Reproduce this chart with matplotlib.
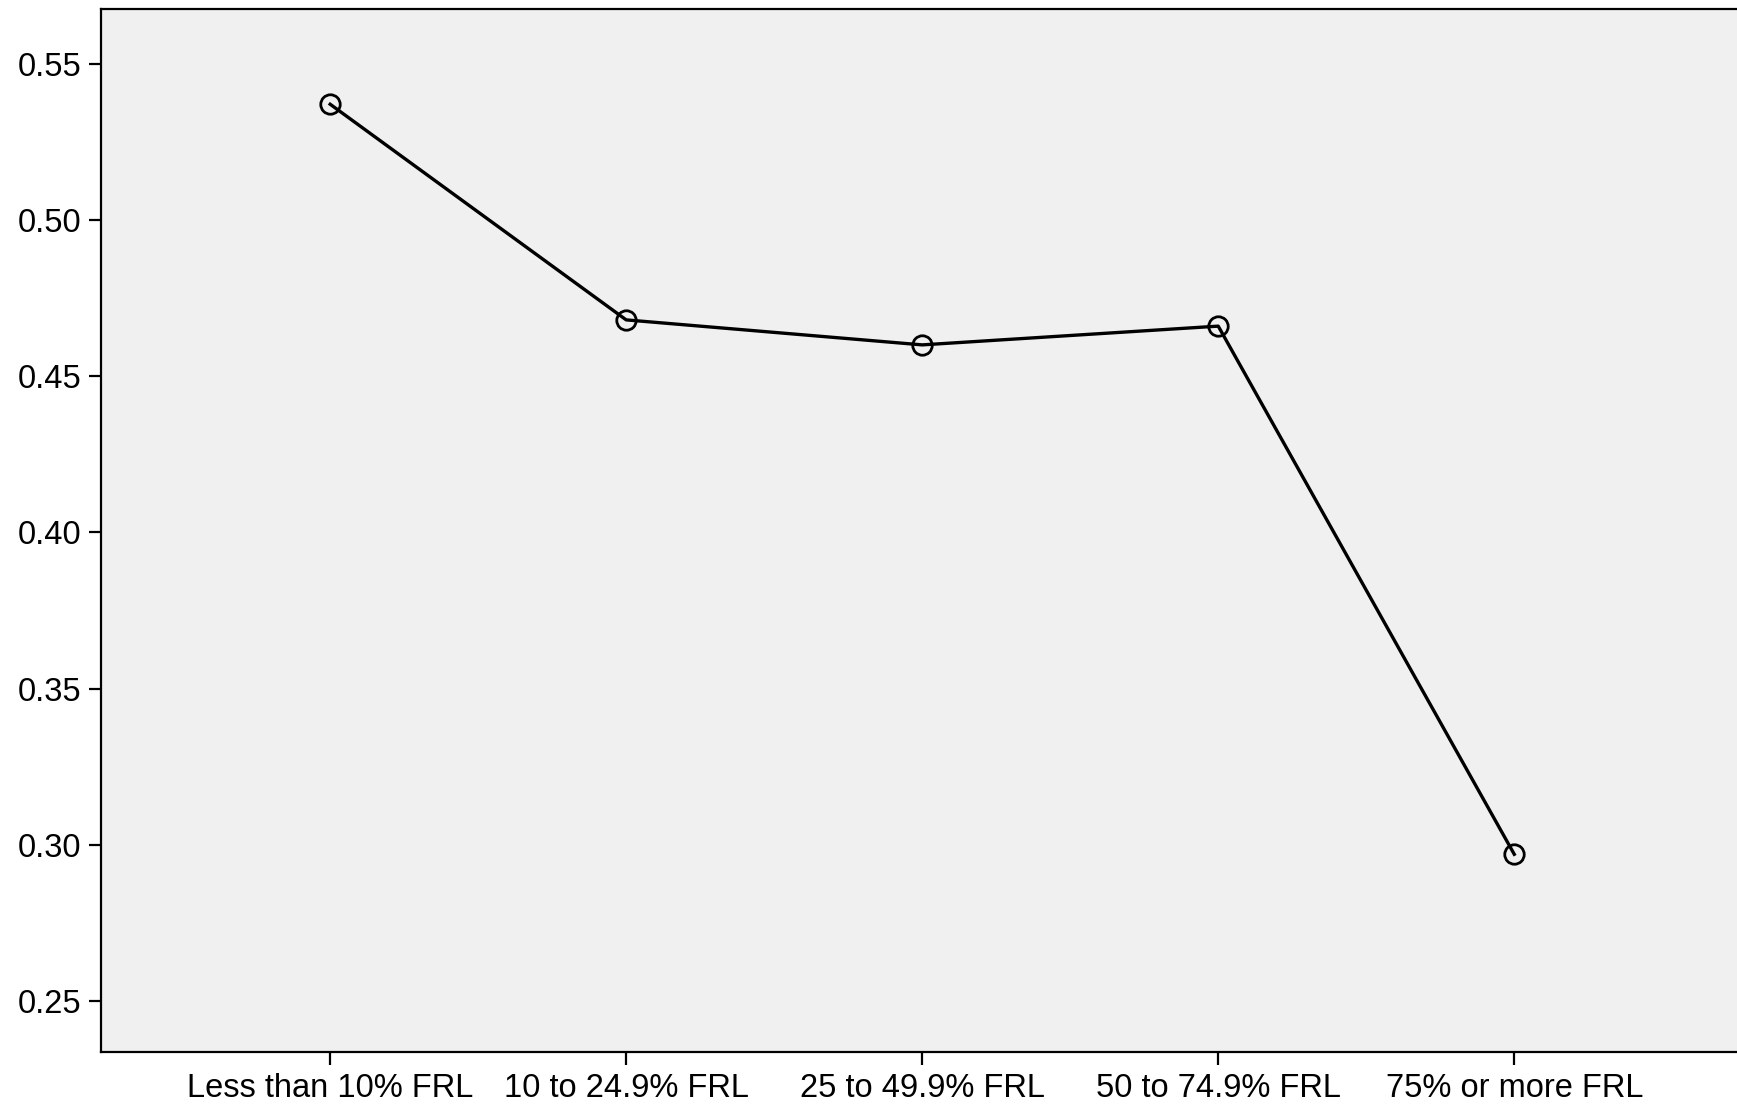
import matplotlib
matplotlib.use("Agg")
import matplotlib.pyplot as plt

plt.rcParams['font.family'] = ['Liberation Sans', 'DejaVu Sans']

categories = ["Less than 10% FRL", "10 to 24.9% FRL", "25 to 49.9% FRL",
              "50 to 74.9% FRL", "75% or more FRL"]
values = [0.537, 0.468, 0.460, 0.466, 0.297]
yticks = [0.25, 0.30, 0.35, 0.40, 0.45, 0.50, 0.55]

fig = plt.figure(figsize=(17.37, 11.13), dpi=100)
ax = fig.add_axes([0.058, 0.0547, 0.945, 0.937])
ax.set_facecolor("#f0f0f0")

xs = list(range(len(categories)))
ax.plot(xs, values, color="black", linewidth=2.4, marker="o", markersize=14,
        markerfacecolor="none", markeredgecolor="black", markeredgewidth=2)

ax.set_xlim(-0.775, 4.77)
ax.set_ylim(0.2337, 0.5674)
ax.set_xticks(xs)
ax.set_xticklabels(categories, fontsize=23.5)
ax.set_yticks(yticks)
ax.set_yticklabels([f"{v:.2f}" for v in yticks], fontsize=23.5)
ax.tick_params(axis="both", direction="out", length=9, width=1.6, colors="black")
ax.tick_params(axis="x", pad=6)
ax.tick_params(axis="y", pad=5)
for s in ax.spines.values():
    s.set_linewidth(1.6)
    s.set_color("black")
ax.spines["right"].set_visible(False)

fig.savefig("out.png", dpi=100)
